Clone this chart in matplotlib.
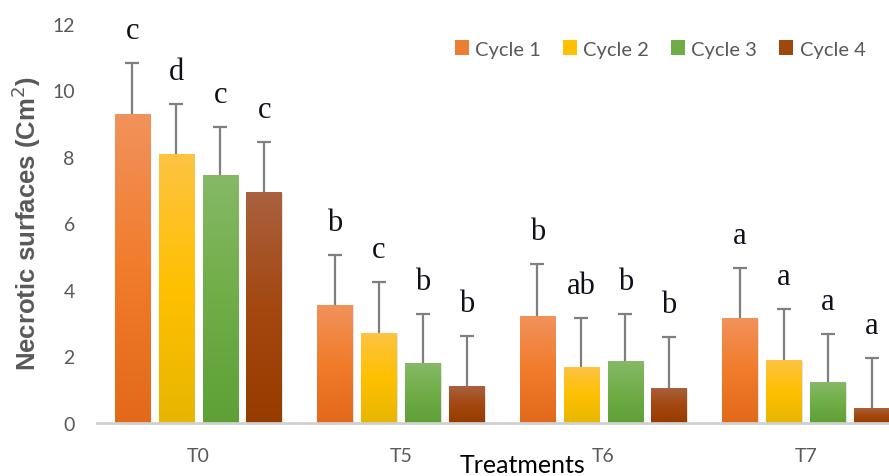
import numpy as np
import matplotlib
matplotlib.use("Agg")
import matplotlib.pyplot as plt
from matplotlib.colors import LinearSegmentedColormap
from matplotlib.patches import Patch

# data
treatments = ["T0", "T5", "T6", "T7"]
cycles = ["Cycle 1", "Cycle 2", "Cycle 3", "Cycle 4"]
means = [
    [9.28, 3.55, 3.22, 3.17],   # cycle 1
    [8.08, 2.72, 1.68, 1.90],   # cycle 2
    [7.46, 1.80, 1.85, 1.23],   # cycle 3
    [6.94, 1.10, 1.06, 0.44],   # cycle 4
]
errors = [
    [1.55, 1.50, 1.55, 1.49],
    [1.52, 1.53, 1.49, 1.52],
    [1.45, 1.49, 1.44, 1.44],
    [1.51, 1.53, 1.53, 1.52],
]
letters = [
    ["c", "b", "b", "a"],
    ["d", "c", "ab", "a"],
    ["c", "b", "b", "a"],
    ["c", "b", "b", "a"],
]

# (top, middle, bottom) gradient colours per cycle
grad_colors = [
    ("#F1925C", "#F17C2B", "#E2691A"),
    ("#FDC343", "#FFC000", "#E7B600"),
    ("#86B967", "#70AD47", "#5EA036"),
    ("#A9613F", "#A3480F", "#973C00"),
]
legend_colors = ["#ED7D31", "#FFC000", "#70AD47", "#9E480E"]

fig = plt.figure(figsize=(8.89, 4.77), dpi=100)
ax = fig.add_axes([97 / 889, 53 / 477, 810 / 889, 399 / 477])

x = np.arange(len(treatments))
width = 0.175
pitch = 0.217

for i in range(len(cycles)):
    pos = x + (i - 1.5) * pitch
    bars = ax.bar(pos, means[i], width, color="none", edgecolor="none", zorder=2)
    cmap = LinearSegmentedColormap.from_list("g%d" % i, list(grad_colors[i][::-1]))
    grad = np.linspace(0, 1, 256).reshape(-1, 1)
    for rect in bars:
        x0, w, h = rect.get_x(), rect.get_width(), rect.get_height()
        # soft shadow
        ax.add_patch(plt.Rectangle((x0 + 0.006, 0), w, h - 0.03, color="#cfcfcf",
                                   alpha=0.6, zorder=1, lw=0))
        im = ax.imshow(grad, cmap=cmap, origin="lower", aspect="auto",
                       extent=(x0, x0 + w, 0, h), zorder=2)
        im.set_clip_path(rect)
    eb = ax.errorbar(pos, means[i], yerr=[np.zeros(len(x)), errors[i]], fmt="none",
                     ecolor="#7f7f7f", elinewidth=1.6, capsize=5, capthick=1.6, zorder=3)
    # only the upper cap is drawn in the reference
    eb[1][0].set_visible(False)
    for j in range(len(x)):
        ax.text(pos[j], means[i][j] + errors[i][j] + 0.75, letters[i][j],
                ha="center", va="baseline", fontsize=22, color="#10101c",
                family="Liberation Serif", clip_on=False, zorder=4)

ax.set_xlim(-0.5, 3.5)
ax.set_ylim(0, 12)
ax.set_yticks(np.arange(0, 13, 2))
ax.set_xticks(x)
ax.set_xticklabels(treatments)

for s in ["top", "right", "left"]:
    ax.spines[s].set_visible(False)
ax.spines["bottom"].set_color("#d0d0d0")
ax.spines["bottom"].set_linewidth(2)
ax.tick_params(axis="both", length=0, labelcolor="#595959", labelsize=14)
ax.tick_params(axis="y", pad=16)
ax.tick_params(axis="x", pad=17)
for lab in ax.get_xticklabels() + ax.get_yticklabels():
    lab.set_family("Lato")

fig.text(26 / 889, 1 - 223 / 477, "Necrotic surfaces (Cm$^{2}$)", rotation=90,
         ha="center", va="center", fontsize=18.5, fontweight="bold", color="#595959",
         family="Liberation Sans")
fig.text(522 / 889, 1 - 466 / 477, "Treatments", ha="center", va="center",
         fontsize=18, color="black", family="Lato")

handles = [Patch(facecolor=c, edgecolor="none") for c in legend_colors]
fig.legend(handles, cycles, loc="center left", bbox_to_anchor=(455 / 889, 1 - 50 / 477),
           bbox_transform=fig.transFigure, ncol=4, frameon=False, borderpad=0,
           borderaxespad=0, handlelength=0.7, handleheight=0.7, handletextpad=0.3,
           columnspacing=1.1, prop={"family": "Lato", "size": 14.5},
           labelcolor="#595959")

fig.savefig("out.png", dpi=100)
